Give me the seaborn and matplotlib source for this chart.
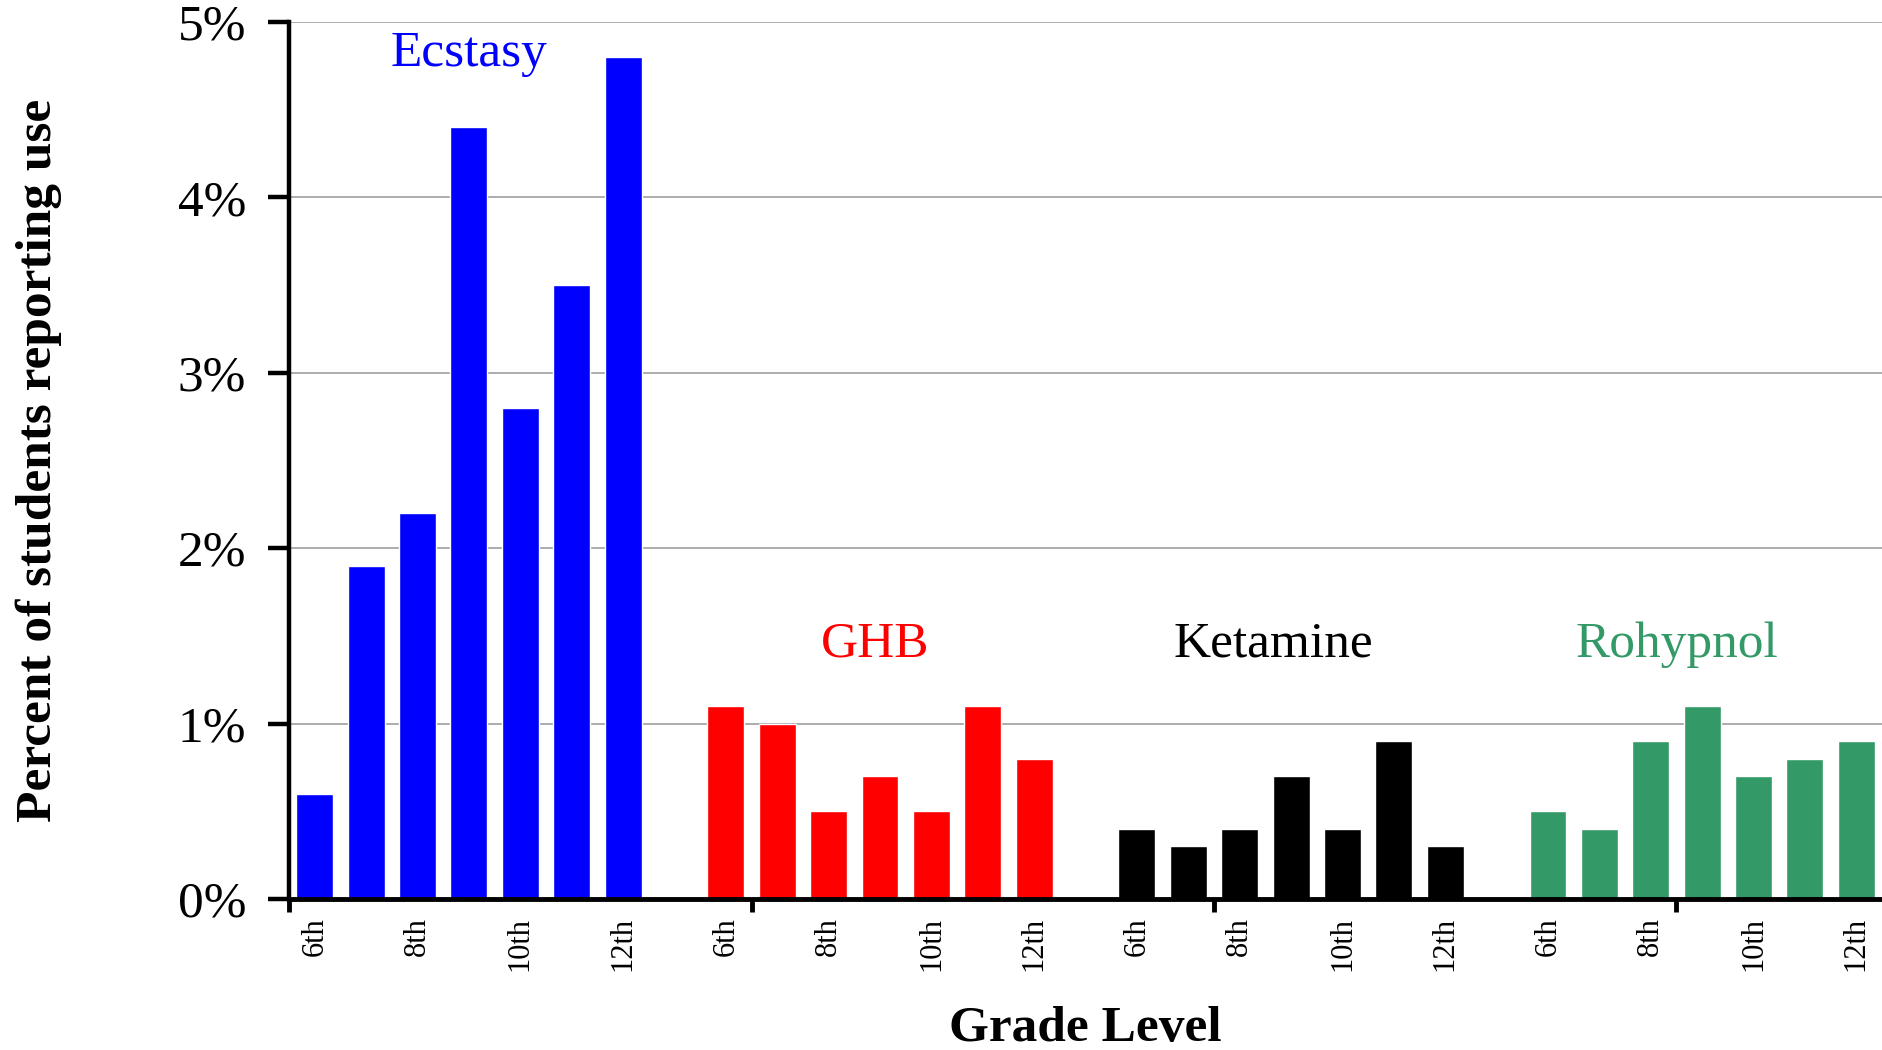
import matplotlib
matplotlib.use("Agg")
import matplotlib.pyplot as plt
import seaborn as sns
import pandas as pd
import numpy as np

# values (percent of students)
grades = ['6th', '7th', '8th', '9th', '10th', '11th', '12th']
drugs = ['Ecstasy', 'GHB', 'Ketamine', 'Rohypnol']
ecstasy = [0.6, 1.9, 2.2, 4.4, 2.8, 3.5, 4.8]
ghb = [1.1, 1.0, 0.5, 0.7, 0.5, 1.1, 0.8]
ketamine = [0.4, 0.3, 0.4, 0.7, 0.4, 0.9, 0.3]
rohypnol = [0.5, 0.4, 0.9, 1.1, 0.7, 0.8, 0.9]
drug_colors = ['#0000FF', '#FF0000', '#000000', '#339966']
shown_grades = ['6th', '8th', '10th', '12th']

sns.set_style("white")
plt.rcParams['font.family'] = ['Liberation Serif', 'DejaVu Serif']
plt.rcParams['text.color'] = 'black'
plt.rcParams['axes.labelcolor'] = 'black'
plt.rcParams['xtick.color'] = 'black'
plt.rcParams['ytick.color'] = 'black'

# one empty slot between drug groups
rows = []
for g, (drug, vals) in enumerate(zip(drugs, [ecstasy, ghb, ketamine, rohypnol])):
    for i, (grade, v) in enumerate(zip(grades, vals)):
        rows.append({'drug': drug, 'grade': grade, 'slot': g * 8 + i, 'pct': v})
df = pd.DataFrame(rows)

fig = plt.figure(figsize=(18.82, 10.5), dpi=100)
ax = fig.add_axes([0.1536, 0.1438, 1.0 - 0.1536, 0.979 - 0.1438])

ax.yaxis.grid(True, color='#a6a6a6', linewidth=1.3)
ax.set_axisbelow(True)

sns.barplot(data=df, x='slot', y='pct', hue='drug', palette=drug_colors,
            hue_order=drugs, native_scale=True, dodge=False, width=0.72,
            legend=False, saturation=1, ax=ax, errorbar=None)

ax.set_xlim(-0.5, 30.5)
ax.set_ylim(0, 5)

# y axis
ax.set_yticks(range(6))
ax.set_yticklabels([f'{i}%' for i in range(6)], fontsize=37)
ax.tick_params(axis='y', direction='out', length=15, width=3.2, pad=16, left=True)

# x axis: group separator tick marks (major), grade labels (minor)
ax.set_xticks([g * 9 - 0.5 for g in range(4)])
ax.set_xticklabels([])
ax.tick_params(axis='x', which='major', direction='out', length=9, width=3.5, bottom=True)
minor_pos = df[df['grade'].isin(shown_grades)]['slot'].tolist()
minor_lab = df[df['grade'].isin(shown_grades)]['grade'].tolist()
ax.set_xticks(minor_pos, minor=True)
ax.set_xticklabels(minor_lab, minor=True, rotation=90, fontsize=22)
ax.tick_params(axis='x', which='minor', length=0, pad=13)

for side in ['top', 'right']:
    ax.spines[side].set_visible(False)
ax.spines['left'].set_linewidth(3.2)
ax.spines['bottom'].set_linewidth(3.5)
ax.spines['left'].set_color('black')
ax.spines['bottom'].set_color('black')

# drug labels
label_pos = [(3.0, 4.82), (10.9, 1.45), (18.66, 1.45), (26.5, 1.45)]
for drug, col, (lx, ly) in zip(drugs, drug_colors, label_pos):
    ax.text(lx, ly, drug, color=col, fontsize=37, ha='center', va='center')

ax.set_xlabel('Grade Level', fontsize=37, fontweight='bold', labelpad=25)
ax.set_ylabel('Percent of students reporting use', fontsize=37, fontweight='bold', labelpad=83)

fig.savefig('out.png', dpi=100)
